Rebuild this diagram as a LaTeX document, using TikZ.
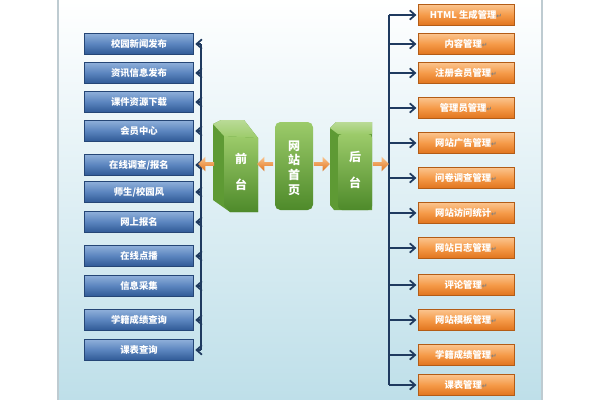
\documentclass[tikz,border=0pt]{standalone}
\usepackage{fontspec}
\newfontfamily\cjk{Noto Sans CJK SC}
\newfontfamily\dv{DejaVu Sans}
\usetikzlibrary{arrows.meta,shapes.arrows}
\definecolor{bus}{HTML}{1F3A5F}
\definecolor{btop}{HTML}{8FB0DA}
\definecolor{bmid}{HTML}{5A84BE}
\definecolor{bbot}{HTML}{2E5894}
\definecolor{otop}{HTML}{FBC58F}
\definecolor{omid}{HTML}{F59A48}
\definecolor{obot}{HTML}{E0731C}
\definecolor{gtop}{HTML}{9CCB6A}
\definecolor{gbot}{HTML}{4E8A2A}
\definecolor{gside}{HTML}{5E9A34}
\definecolor{bgb}{HTML}{BEDFE9}
\tikzset{
 bluebox/.style={draw=bbot!80!black,line width=0.4pt,minimum width=82pt,minimum height=16pt,top color=btop,bottom color=bbot,middle color=bmid,text=white,font=\cjk\bfseries\fontsize{7}{8}\selectfont,inner sep=0},
 orbox/.style={draw=obot!80!black,line width=0.4pt,minimum width=72pt,minimum height=16pt,top color=otop,bottom color=obot,middle color=omid,text=white,font=\cjk\bfseries\fontsize{7}{8}\selectfont,inner sep=0},
 busl/.style={draw=bus,line width=1.3pt},
 arr/.style={busl,-{Straight Barb[length=4pt,width=7pt,line width=1.3pt]}},
 oarrow/.style={single arrow,single arrow head extend=2pt,minimum height=12pt,minimum width=11pt,inner sep=0.5pt,top color=otop,bottom color=obot,draw=none},
 blk/.style={text=white,font=\cjk\bfseries\fontsize{9}{11}\selectfont,align=center}
}
\newcommand{\retmark}{{\dv\color{gray}\fontsize{5}{5}\selectfont ↵}}
\begin{document}
\begin{tikzpicture}[x=0.75pt,y=-0.75pt]
\useasboundingbox (0,0) rectangle (600,400);
\shade[top color=white,bottom color=bgb] (58,0) rectangle (542,400);
\draw[cyan!20!gray!50,line width=0.8pt] (58,0) -- (58,400) (542,0)--(542,400);
% left boxes
\foreach \n/\y/\t in {l1/44/{校园新闻发布},l2/73/{资讯信息发布},l3/102/{课件资源下载},l4/131/{会员中心},l5/165/{在线调查/报名},l6/192/{师生/校园风},l7/222/{网上报名},l8/256/{在线点播},l9/286/{信息采集},l10/320/{学籍成绩查询},l11/350/{课表查询}}
  \node[bluebox] (\n) at (139,\y) {\t};
\coordinate (lt) at (201,44); \coordinate (lb) at (201,350);
\draw[busl] (lt) -- (lb);
\foreach \n in {l1,l2,l3,l4,l5,l6,l7,l8,l9,l10,l11}
  \draw[arr] (lt |- \n.east) -- ([xshift=1pt]\n.east);
% right boxes
\foreach \n/\y/\t in {r1/15/{HTML 生成管理\retmark},r2/44/{内容管理\retmark},r3/73/{注册会员管理\retmark},r4/108/{管理员管理\retmark},r5/143/{网站广告管理\retmark},r6/178/{问卷调查管理\retmark},r7/213/{网站访问统计\retmark},r8/248/{网站日志管理\retmark},r9/285/{评论管理\retmark},r10/320/{网站模板管理\retmark},r11/355/{学籍成绩管理\retmark},r12/385/{课表管理\retmark}}
  \node[orbox] (\n) at (466,\y) {\t};
\coordinate (rt) at (389,15); \coordinate (rb) at (389,385);
\draw[busl] (rt) -- (rb);
\foreach \n in {r1,r2,r3,r4,r5,r6,r7,r8,r9,r10,r11,r12}
  \draw[arr] (rt |- \n.west) -- ([xshift=-1pt]\n.west);
% center blocks
\fill[gside] (213,124) -- (221,120) -- (244,120) -- (258,138) -- (258,212) -- (230,212) -- (213,200) -- cycle;
\shade[top color=gtop,bottom color=gbot] (224,136) -- (258,138) -- (258,212) -- (230,212) -- (224,205) -- cycle;
\shade[top color=gtop!70!white,bottom color=gtop] (213,124) -- (221,120) -- (244,120)--(258,138)--(224,136)--cycle;
\node[blk] (qt) at (241,172) {前\\[8pt]台};
\shade[rounded corners=4,top color=gtop,bottom color=gbot] (275,122) rectangle (313,210);
\node[blk] (wz) at (294,168) {网\\站\\首\\页};
\fill[gside] (330,128) -- (336,122) -- (372,122) -- (372,210) -- (334,210) -- (330,205) -- cycle;
\shade[rounded corners=3,top color=gtop,bottom color=gbot] (338,134) rectangle (372,210);
\shade[top color=gtop!70!white,bottom color=gtop] (330,128) -- (336,122) -- (372,122) -- (372,134) -- (338,134) -- cycle;
\node[blk] (ht) at (355,170) {后\\[8pt]台};
% orange arrows
\node[oarrow,shape border rotate=180] (a1) at (207,164) {};
\node[oarrow,shape border rotate=180] (a2) at (266,164) {};
\node[oarrow] (a3) at (321,164) {};
\node[oarrow] (a4) at (380,164) {};
\end{tikzpicture}
\end{document}
